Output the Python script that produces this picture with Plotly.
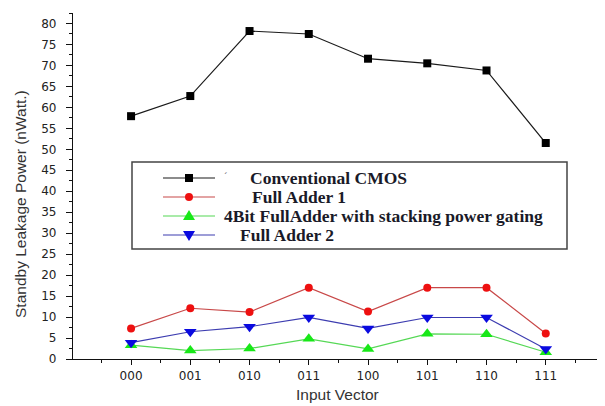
import plotly.graph_objects as go

# ---- data ----
categories = ["000", "001", "010", "011", "100", "101", "110", "111"]
conventional_cmos = [57.9, 62.7, 78.2, 77.5, 71.6, 70.5, 68.8, 51.5]
full_adder_1 = [7.3, 12.1, 11.2, 17.0, 11.3, 17.0, 17.0, 6.1]
stacking_gating = [3.3, 2.0, 2.5, 4.8, 2.4, 6.0, 5.9, 1.6]
full_adder_2 = [3.9, 6.5, 7.7, 9.9, 7.3, 9.9, 9.9, 2.4]
series_names = ["Conventional CMOS", "Full Adder 1",
                "4Bit FullAdder with stacking power gating", "Full Adder 2"]
y_ticks = list(range(0, 81, 5))

# page has an 8px body margin; work in window pixels and convert
OFF = 8
W, H = 605 - OFF, 406 - OFF
PLOT_L, PLOT_R, PLOT_T, PLOT_B = 73, 605, 13, 359  # window pixels
ML = PLOT_L - OFF
MT = PLOT_T - OFF
MR = W - (PLOT_R - OFF)
MB = H - (PLOT_B - OFF)
PW, PH = W - ML - MR, H - MT - MB

def px(x):
    return (x - OFF - ML) / PW

def py(y):
    return (H - MB - (y - OFF)) / PH

xs = list(range(len(categories)))
styles = [
    dict(line="#1a1a1a", marker="#000000", symbol="square", size=8),
    dict(line="#c84848", marker="#ee1010", symbol="circle", size=8),
    dict(line="#55d855", marker="#18e818", symbol="triangle-up", size=11),
    dict(line="#3c3cb0", marker="#0a0ae0", symbol="triangle-down", size=11),
]
series = [conventional_cmos, full_adder_1, stacking_gating, full_adder_2]

fig = go.Figure()
for name, vals, st in zip(series_names, series, styles):
    fig.add_trace(go.Scatter(
        x=xs, y=vals, name=name, mode="lines+markers",
        line=dict(color=st["line"], width=1.2),
        marker=dict(color=st["marker"], symbol=st["symbol"], size=st["size"],
                    line=dict(width=0)),
        showlegend=False, cliponaxis=False))

tick_font = dict(family="DejaVu Sans", size=12, color="#222222")

fig.update_layout(
    width=W, height=H,
    margin=dict(l=ML, r=MR, t=MT, b=MB, autoexpand=False),
    paper_bgcolor="white", plot_bgcolor="white",
    showlegend=False,
    xaxis=dict(
        range=[-0.98, 8.0], tickmode="array",
        tickvals=xs + [7.95], ticktext=categories + ["-"],
        showgrid=False, zeroline=False, showline=True, linecolor="#111111",
        linewidth=1.2, ticks="outside", ticklen=5, tickcolor="#111111",
        tickfont=tick_font, automargin=False,
        minor=dict(tickvals=[i - 0.5 for i in range(0, 9)], ticks="outside",
                   ticklen=3, tickcolor="#111111", showgrid=False),
    ),
    yaxis=dict(
        range=[0, 82.5], tickmode="array", tickvals=y_ticks,
        ticktext=[str(v) for v in y_ticks],
        showgrid=False, zeroline=False, showline=True, linecolor="#111111",
        linewidth=1.2, ticks="outside", ticklen=6, tickcolor="#111111",
        tickfont=tick_font, automargin=False, ticklabelstandoff=7,
        minor=dict(dtick=2.5, ticks="outside", ticklen=3, tickcolor="#111111",
                   showgrid=False),
    ),
)

# axis titles
fig.add_annotation(text="Standby Leakage Power (nWatt.)", x=px(20), y=py(204),
                   xref="paper", yref="paper", textangle=-90, showarrow=False,
                   xanchor="center", yanchor="middle",
                   font=dict(family="Liberation Sans", size=15.5, color="#333333"))
fig.add_annotation(text="Input Vector", x=px(337), y=py(394),
                   xref="paper", yref="paper", showarrow=False,
                   xanchor="center", yanchor="middle",
                   font=dict(family="Liberation Sans", size=15.5, color="#333333"))

# ---- manual legend box ----
shapes = []
shapes.append(dict(type="rect", xref="paper", yref="paper",
                   x0=px(132), x1=px(567), y0=py(162), y1=py(249),
                   line=dict(color="#444444", width=1.5), fillcolor="white",
                   layer="above"))
row_y = [178, 197, 216, 235]
text_x = [248, 250, 222, 238]
for i, (st, yy) in enumerate(zip(styles, row_y)):
    shapes.append(dict(type="line", xref="paper", yref="paper",
                       x0=px(163), x1=px(215), y0=py(yy), y1=py(yy),
                       line=dict(color=st["line"], width=1.2), layer="above"))
    cx = 189
    if st["symbol"] == "square":
        shapes.append(dict(type="rect", xref="paper", yref="paper",
                           x0=px(cx - 4), x1=px(cx + 4), y0=py(yy - 4), y1=py(yy + 4),
                           line=dict(width=0), fillcolor=st["marker"], layer="above"))
    elif st["symbol"] == "circle":
        shapes.append(dict(type="circle", xref="paper", yref="paper",
                           x0=px(cx - 4), x1=px(cx + 4), y0=py(yy - 4), y1=py(yy + 4),
                           line=dict(width=0), fillcolor=st["marker"], layer="above"))
    elif st["symbol"] == "triangle-up":
        path = "M %f %f L %f %f L %f %f Z" % (px(cx - 6), py(yy + 4), px(cx + 6), py(yy + 4),
                                               px(cx), py(yy - 6))
        shapes.append(dict(type="path", xref="paper", yref="paper", path=path,
                           line=dict(width=0), fillcolor=st["marker"], layer="above"))
    else:
        path = "M %f %f L %f %f L %f %f Z" % (px(cx - 6), py(yy - 4), px(cx + 6), py(yy - 4),
                                               px(cx), py(yy + 6))
        shapes.append(dict(type="path", xref="paper", yref="paper", path=path,
                           line=dict(width=0), fillcolor=st["marker"], layer="above"))
    fig.add_annotation(text="<b>%s</b>" % series_names[i], x=px(text_x[i]), y=py(yy),
                       xref="paper", yref="paper", xanchor="left", yanchor="middle",
                       showarrow=False,
                       font=dict(family="Liberation Serif", size=17.5, color="#1a1a28"))
fig.add_annotation(text="´", x=px(222), y=py(176), xref="paper", yref="paper",
                   showarrow=False, font=dict(family="Liberation Serif", size=10,
                                              color="#555555"))
fig.update_layout(shapes=shapes)

fig.write_html("out.html")
